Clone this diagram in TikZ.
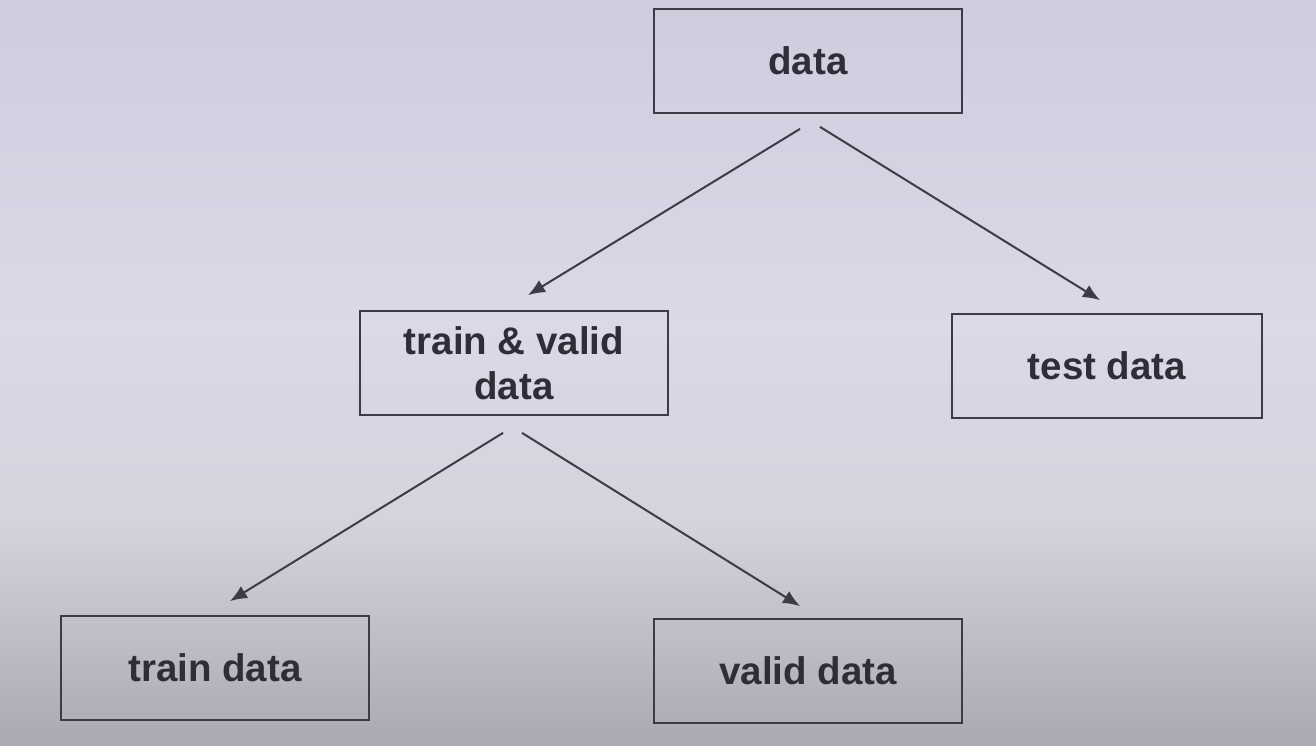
\documentclass[tikz,border=0pt]{standalone}
\usepackage{fontspec}
\setmainfont{Liberation Sans}
\usetikzlibrary{arrows.meta}
\definecolor{bgtop}{HTML}{CDCDDE}
\definecolor{bgmid}{HTML}{D9D9E7}
\definecolor{bglow}{HTML}{D4D4DE}
\definecolor{bgbot}{HTML}{A9A9B2}
\definecolor{ink}{HTML}{2E2E38}
\definecolor{edge}{HTML}{3C3C46}
\tikzset{
  box/.style={draw=edge, line width=1.8pt, rectangle, minimum width=308pt, minimum height=104pt,
    inner sep=0pt, align=center, text=ink, font=\fontsize{38.5}{45}\selectfont\bfseries},
  arr/.style={draw=edge, line width=2pt, -{Latex[length=17pt,width=14pt]}}
}
\begin{document}
\begin{tikzpicture}[x=1pt,y=-1pt]
\useasboundingbox (0,0) rectangle (1316,746);
\shade[top color=bgtop, bottom color=bgmid] (0,0) rectangle (1316,330);
\shade[top color=bgmid, bottom color=bglow] (0,330) rectangle (1316,520);
\shade[top color=bglow, bottom color=bgbot] (0,520) rectangle (1316,746);
\node[box] (data) at (808,61) {data};
\node[box] (tv) at (514,363) {train \& valid\\data};
\node[box, minimum width=310pt] (test) at (1107,366) {test data};
\node[box] (train) at (215,668) {train data};
\node[box] (valid) at (808,671) {valid data};
\draw[arr] ([shift={(-8,15)}]data.south) -- ([shift={(14,-15)}]tv.north);
\draw[arr] ([shift={(12,13)}]data.south) -- ([shift={(-7,-13)}]test.north);
\draw[arr] ([shift={(-11,17)}]tv.south) -- ([shift={(15,-14)}]train.north);
\draw[arr] ([shift={(8,17)}]tv.south) -- ([shift={(-8,-12)}]valid.north);
\end{tikzpicture}
\end{document}
